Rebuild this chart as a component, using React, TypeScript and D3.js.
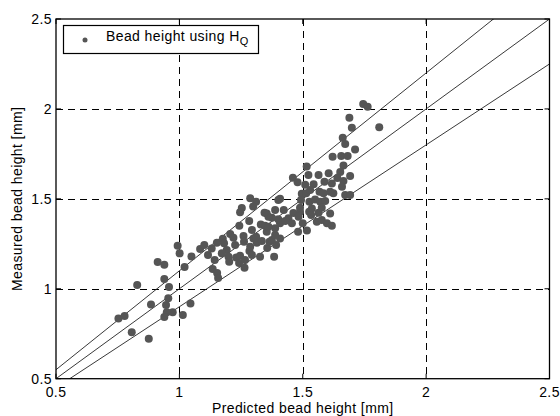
import React, { useEffect, useRef } from "react";
import { select, scaleLinear, line } from "d3";

// predicted vs measured bead height [mm]
const predicted = [
  0.753, 0.778, 0.807, 0.876, 0.829, 0.912, 0.939, 0.939, 0.958, 0.885, 0.946, 0.955, 0.949, 0.973, 1.014, 0.939, 1.045, 1.021, 1.135, 1.153, 1.157, 1.264,
  0.993, 1.001, 1.049, 1.084, 1.101, 1.116, 1.131, 1.143, 1.152, 1.176, 1.181, 1.192, 1.199, 1.172, 1.206, 1.219, 1.226, 1.230, 1.246, 1.202, 1.242, 1.260,
  1.262, 1.266, 1.284, 1.287, 1.294, 1.300, 1.314, 1.327, 1.334, 1.356, 1.365, 1.384, 1.392, 1.375, 1.408, 1.294, 1.311, 1.354, 1.388, 1.283, 1.330, 1.347,
  1.375, 1.243, 1.388, 1.408, 1.361, 1.361, 1.354, 1.388, 1.401, 1.287, 1.311, 1.253, 1.246, 1.299, 1.345, 1.401,
  1.745, 1.763, 1.689, 1.699, 1.810, 1.662, 1.672, 1.712, 1.621, 1.656, 1.682, 1.665, 1.516, 1.692, 1.523, 1.564, 1.605, 1.652, 1.640, 1.665, 1.460, 1.479,
  1.510, 1.544, 1.588, 1.618, 1.659, 1.496, 1.514, 1.530, 1.568, 1.584, 1.611, 1.624, 1.672, 1.692, 1.408, 1.493, 1.527, 1.550, 1.571, 1.591, 1.423, 1.462,
  1.489, 1.526, 1.537, 1.534, 1.564, 1.611, 1.489, 1.577, 1.483, 1.442, 1.429, 1.456, 1.500, 1.557, 1.577, 1.598, 1.618, 1.517, 1.481
];
const measured = [
  0.835, 0.849, 0.758, 0.722, 1.021, 1.149, 1.134, 1.054, 1.010, 0.912, 0.910, 0.947, 0.869, 0.869, 0.854, 0.843, 0.918, 1.121, 1.110, 1.088, 1.060, 1.117,
  1.239, 1.197, 1.179, 1.221, 1.243, 1.188, 1.224, 1.160, 1.256, 1.278, 1.253, 1.215, 1.178, 1.197, 1.304, 1.284, 1.243, 1.174, 1.184, 1.150, 1.143, 1.293,
  1.262, 1.160, 1.210, 1.234, 1.188, 1.280, 1.256, 1.178, 1.265, 1.227, 1.262, 1.178, 1.243, 1.271, 1.280, 1.327, 1.289, 1.317, 1.299, 1.377, 1.358, 1.351,
  1.395, 1.351, 1.336, 1.364, 1.345, 1.401, 1.419, 1.438, 1.493, 1.503, 1.484, 1.449, 1.425, 1.457, 1.423, 1.386,
  2.027, 2.012, 1.951, 1.896, 1.898, 1.840, 1.805, 1.775, 1.734, 1.738, 1.738, 1.685, 1.680, 1.627, 1.632, 1.632, 1.643, 1.649, 1.616, 1.599, 1.617, 1.592,
  1.579, 1.581, 1.595, 1.586, 1.567, 1.528, 1.531, 1.549, 1.540, 1.531, 1.540, 1.531, 1.521, 1.521, 1.500, 1.493, 1.484, 1.497, 1.484, 1.488, 1.438, 1.421,
  1.428, 1.428, 1.447, 1.410, 1.423, 1.419, 1.451, 1.451, 1.401, 1.392, 1.377, 1.364, 1.364, 1.373, 1.382, 1.364, 1.351, 1.324, 1.317
];
const refSlopes = [0.9, 1.0, 1.1];
const ticks = [0.5, 1, 1.5, 2, 2.5];
const tickLabels = ["0.5", "1", "1.5", "2", "2.5"];
const domain = [0.5, 2.5];

const W = 560;
const H = 416;
const FONT = "'Liberation Sans', Arial, Helvetica, sans-serif";

function Scatter() {
  const svgRef = useRef(null);

  useEffect(() => {
    const left = 56, right = 549.5, top = 19, bottom = 378.7;
    const x = scaleLinear().domain(domain).range([left, right]);
    const y = scaleLinear().domain(domain).range([bottom, top]);

    const svg = select(svgRef.current);
    svg.selectAll("*").remove();

    svg.append("defs").append("clipPath").attr("id", "plotClip")
      .append("rect")
      .attr("x", left).attr("y", top)
      .attr("width", right - left).attr("height", bottom - top);

    svg.append("rect")
      .attr("x", 0).attr("y", 0).attr("width", W).attr("height", H)
      .attr("fill", "#fff");

    // dashed grid
    const grid = svg.append("g")
      .attr("stroke", "#000")
      .attr("stroke-width", 1)
      .attr("stroke-dasharray", "7,5");
    grid.selectAll(".gx")
      .data(ticks.slice(1, -1))
      .join("line")
      .attr("x1", d => Math.round(x(d)) + 0.5).attr("x2", d => Math.round(x(d)) + 0.5)
      .attr("y1", top).attr("y2", bottom);
    grid.selectAll(".gy")
      .data(ticks.slice(1, -1))
      .join("line")
      .attr("class", "gy")
      .attr("y1", d => Math.round(y(d)) + 0.5).attr("y2", d => Math.round(y(d)) + 0.5)
      .attr("x1", left).attr("x2", right);

    // y = k*x reference lines
    const lineGen = line()
      .x(d => x(d[0]))
      .y(d => y(d[1]));
    svg.append("g")
      .attr("clip-path", "url(#plotClip)")
      .selectAll("path")
      .data(refSlopes)
      .join("path")
      .attr("d", k => lineGen([[domain[0], k * domain[0]], [domain[1], k * domain[1]]]))
      .attr("fill", "none")
      .attr("stroke", "#222")
      .attr("stroke-width", 0.9);

    // points
    svg.append("g")
      .attr("fill", "#555")
      .selectAll("circle")
      .data(predicted.map((p, i) => [p, measured[i]]))
      .join("circle")
      .attr("cx", d => x(d[0]))
      .attr("cy", d => y(d[1]))
      .attr("r", 4);

    // frame
    svg.append("rect")
      .attr("x", left).attr("y", top)
      .attr("width", right - left).attr("height", bottom - top)
      .attr("fill", "none")
      .attr("stroke", "#000")
      .attr("stroke-width", 1.3);

    // inside ticks
    const tk = svg.append("g").attr("stroke", "#000").attr("stroke-width", 1);
    ticks.forEach(t => {
      tk.append("line").attr("x1", x(t)).attr("x2", x(t)).attr("y1", bottom).attr("y2", bottom - 5);
      tk.append("line").attr("x1", x(t)).attr("x2", x(t)).attr("y1", top).attr("y2", top + 5);
      tk.append("line").attr("y1", y(t)).attr("y2", y(t)).attr("x1", left).attr("x2", left + 5);
      tk.append("line").attr("y1", y(t)).attr("y2", y(t)).attr("x1", right).attr("x2", right - 5);
    });

    const txt = sel => sel
      .attr("font-family", FONT)
      .attr("font-size", 14)
      .attr("letter-spacing", 0.4);

    // tick labels
    svg.append("g")
      .selectAll("text")
      .data(ticks)
      .join("text")
      .attr("x", d => x(d))
      .attr("y", bottom + 18)
      .attr("text-anchor", "middle")
      .call(txt)
      .text((d, i) => tickLabels[i]);
    svg.append("g")
      .selectAll("text")
      .data(ticks)
      .join("text")
      .attr("x", left - 4)
      .attr("y", d => y(d) + 5)
      .attr("text-anchor", "end")
      .call(txt)
      .text((d, i) => tickLabels[i]);

    // axis titles
    svg.append("text")
      .attr("x", (left + right) / 2)
      .attr("y", 413)
      .attr("text-anchor", "middle")
      .call(txt)
      .text("Predicted bead height [mm]");
    svg.append("text")
      .attr("transform", `translate(22,${(top + bottom) / 2}) rotate(-90)`)
      .attr("text-anchor", "middle")
      .call(txt)
      .text("Measured bead height [mm]");

    // legend
    const lg = svg.append("g");
    lg.append("rect")
      .attr("x", 63.5).attr("y", 25.5).attr("width", 195).attr("height", 28)
      .attr("fill", "#fff").attr("stroke", "#000").attr("stroke-width", 1.2);
    lg.append("circle").attr("cx", 85).attr("cy", 40).attr("r", 2.5).attr("fill", "#555");
    const lt = lg.append("text")
      .attr("x", 106).attr("y", 41)
      .call(txt);
    lt.append("tspan").text("Bead height using H");
    lt.append("tspan").attr("dy", 4).attr("font-size", 11).text("Q");
  }, []);

  return (
    <svg ref={svgRef} width={W} height={H}
      style={{ position: "absolute", left: 0, top: 0, display: "block" }} />
  );
}

export default function App() {
  return <Scatter />;
}
